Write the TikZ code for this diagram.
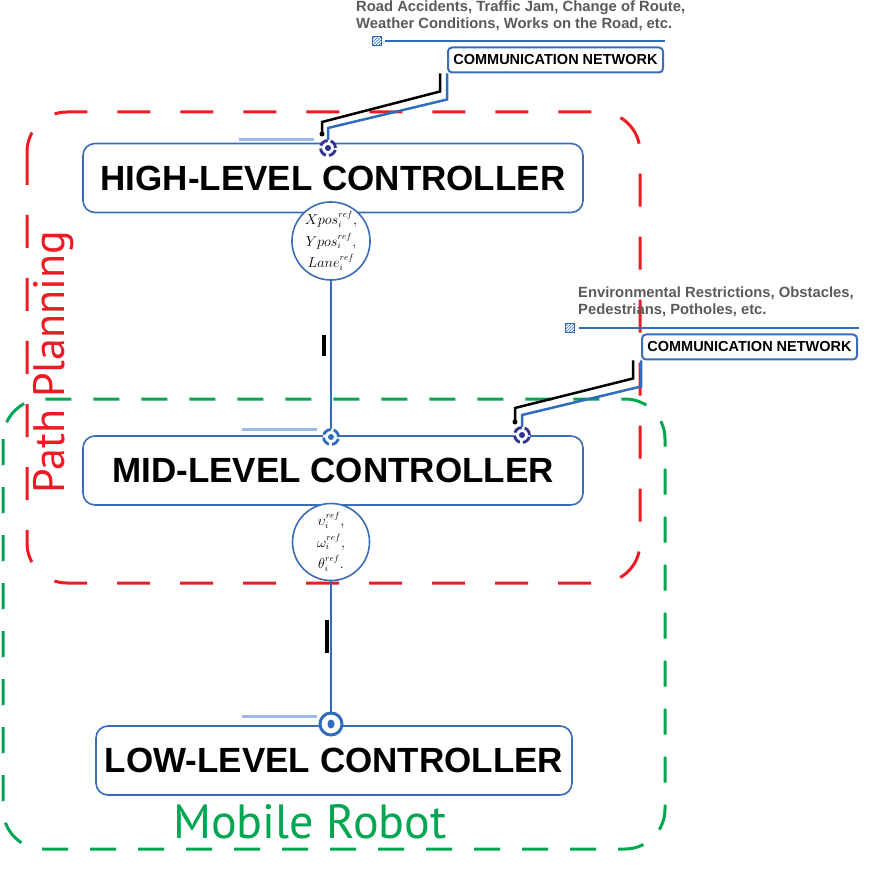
\documentclass[tikz,border=0pt]{standalone}
\usepackage{fontspec}
\setmainfont{Liberation Sans}
\newfontfamily\regionfont{PT Sans}
\usetikzlibrary{patterns}

\definecolor{boxblue}{HTML}{3A6DB5}
\definecolor{lineblue}{HTML}{2F6CB9}
\definecolor{paleblue}{HTML}{9FBAE2}
\definecolor{portblue}{HTML}{2E3192}
\definecolor{planred}{HTML}{ED1C24}
\definecolor{robotgreen}{HTML}{00A651}
\definecolor{notegray}{HTML}{5A5A5A}

\begin{document}
\begin{tikzpicture}[x=1pt, y=-1pt]
\tikzstyle{controller}=[rectangle, rounded corners=12pt, draw=boxblue, line width=1.6pt, fill=white, minimum height=69pt, font=\fontsize{35}{40}\selectfont\bfseries]
\tikzstyle{refcircle}=[circle, draw=boxblue, line width=1.6pt, fill=white, minimum size=77pt, inner sep=0pt, align=center, font=\fontsize{13.5}{21.5}\selectfont]
\tikzstyle{network}=[rectangle, rounded corners=4pt, draw=boxblue, line width=2pt, fill=white, minimum width=215pt, minimum height=25pt, inner sep=0pt, font=\fontsize{14.5}{16}\selectfont\bfseries]
\tikzstyle{note}=[anchor=north west, inner sep=0pt, align=left, text=notegray, font=\fontsize{14.8}{17}\selectfont\bfseries]
\tikzstyle{hatch}=[rectangle, minimum size=9pt, inner sep=0pt, pattern=north east lines, pattern color=lineblue, draw=lineblue, line width=0.6pt]
\tikzstyle{port}=[circle, minimum size=16pt, inner sep=0pt, fill=white]
\tikzstyle{tick}=[rectangle, fill=black, minimum width=4pt, inner sep=0pt]
\tikzstyle{region}=[inner sep=0pt, font=\fontsize{48}{50}\selectfont\regionfont]
\tikzstyle{link}=[lineblue, line width=1.6pt]
\tikzstyle{comm}=[lineblue, line width=2.5pt]
\tikzstyle{commblack}=[black, line width=2.5pt]

\useasboundingbox (0,0) rectangle (878,874);

% Dashed regions
\draw[planred, line width=3pt, dash pattern=on 33pt off 30pt, rounded corners=40pt] (27,112) rectangle (640,583);
\draw[robotgreen, line width=3pt, dash pattern=on 26pt off 22pt, rounded corners=40pt] (3,399) rectangle (665,849);
\node[region, text=planred, rotate=90, font=\fontsize{44}{46}\selectfont\regionfont] (planlabel) at (54,362) {Path Planning};
\node[region, text=robotgreen] (robotlabel) at (310,822) {Mobile Robot};

% Controllers
\node[controller, minimum width=500pt] (high) at (333,178) {HIGH-LEVEL CONTROLLER};
\node[controller, minimum width=500pt] (mid) at (333,470.5) {MID-LEVEL CONTROLLER};
\node[controller, minimum width=476pt] (low) at (334,760.5) {LOW-LEVEL CONTROLLER};

% Ports
\node[port] (hport) at (328,148) {};
\node[port] (mport) at (331,437) {};
\node[port] (mport2) at (522,435) {};
\node[port, minimum size=24pt] (lport) at (331,724) {};

% Reference signals
\node[refcircle] (hcirc) at (331,241) {$Xpos_i^{ref},$\\$Ypos_i^{ref},$\\$Lane_i^{ref}$};
\node[refcircle] (mcirc) at (331,542) {$\upsilon_i^{ref},$\\$\omega_i^{ref},$\\$\theta_i^{ref}.$};

\draw[link] (hcirc) -- (mport);
\draw[link] (mcirc) -- (lport);
\node[tick, minimum height=21pt] (htick) at (324,346) {};
\node[tick, minimum height=33pt] (mtick) at (327,636.5) {};

\foreach \p in {hport, mport, lport}
    \draw[paleblue, line width=3pt] ([xshift=-89pt, yshift=8pt]\p.center) -- ([xshift=-14pt, yshift=8pt]\p.center);

\foreach \p/\c in {hport/portblue, mport/lineblue, mport2/portblue} {
    \draw[\c, line width=2.8pt, dash pattern=on 9pt off 3pt] (\p) circle [radius=7.5pt];
    \fill[\c] (\p) circle [radius=3pt];
};
\draw[lineblue, line width=3pt] (lport) circle [radius=11pt];
\fill[lineblue] (lport) ellipse [x radius=3.5pt, y radius=4.5pt];

% Communication networks
\node[hatch] (hatch1) at (376.5,41) {};
\draw[comm] ([xshift=4pt]hatch1.east) -- ++(280,0);
\node[note] (note1) at (356,1) {Road Accidents, Traffic Jam, Change of Route,\\Weather Conditions, Works on the Road, etc.};
\node[network] (net1) at (555.5,60) {COMMUNICATION NETWORK};
\draw[comm] (net1.south west) -- ++(0,26) -- ([yshift=20pt]hport.center) -- (hport);
\draw[commblack] ([xshift=-7pt]net1.south west) -- ++(0,18) -- ([xshift=-6pt, yshift=26pt]hport.center) -- ([xshift=-6pt, yshift=15pt]hport.center);
\fill ([xshift=-6pt, yshift=14pt]hport.center) circle [radius=2.5pt];

\node[hatch] (hatch2) at (570,328) {};
\draw[comm] ([xshift=4pt]hatch2.east) -- ++(280,0);
\node[note] (note2) at (578,287) {Environmental Restrictions, Obstacles,\\Pedestrians, Potholes, etc.};
\node[network] (net2) at (749.5,347) {COMMUNICATION NETWORK};
\draw[comm] (net2.south west) -- ++(0,26) -- ([yshift=20pt]mport2.center) -- (mport2);
\draw[commblack] ([xshift=-8pt]net2.south west) -- ++(0,18) -- ([xshift=-7pt, yshift=27pt]mport2.center) -- ([xshift=-7pt, yshift=14pt]mport2.center);
\fill ([xshift=-7pt, yshift=13pt]mport2.center) circle [radius=2.5pt];

\end{tikzpicture}
\end{document}
